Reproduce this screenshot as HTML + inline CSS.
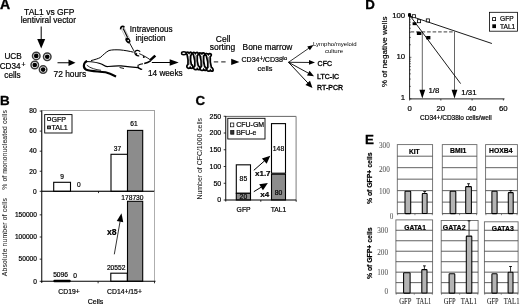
<!DOCTYPE html>
<html><head><meta charset="utf-8"><style>
html,body{margin:0;padding:0;background:#fff;}
svg{display:block;filter:grayscale(100%);}
</style></head><body>
<svg width="520" height="304" viewBox="0 0 520 304">
<rect width="520" height="304" fill="#fff"/>
<text x="0.1" y="9.4" font-size="14" text-anchor="start" font-weight="bold" font-family='"Liberation Sans", sans-serif' fill="#000"  stroke="#000" stroke-width="0.35">A</text>
<text x="49.3" y="14.6" font-size="8.5" text-anchor="middle" font-weight="normal" font-family='"Liberation Sans", sans-serif' fill="#000" stroke="#000" stroke-width="0.2" >TAL1 vs GFP</text>
<text x="48.3" y="23.2" font-size="8.3" text-anchor="middle" font-weight="normal" font-family='"Liberation Sans", sans-serif' fill="#000" stroke="#000" stroke-width="0.2" >lentiviral vector</text>
<line x1="41.2" y1="26.5" x2="41.2" y2="39.4" stroke="#000" stroke-width="1" />
<polygon points="41.2,48.4 37.2,38.9 45.2,38.9" fill="#000" stroke="none" stroke-width="1"/>
<circle cx="36.25" cy="55.9" r="3.75" fill="#fff" stroke="#3a3a3a" stroke-width="1.5"/>
<circle cx="36.25" cy="55.9" r="2.35" fill="#000"/>
<circle cx="47.25" cy="56.75" r="3.75" fill="#fff" stroke="#3a3a3a" stroke-width="1.5"/>
<circle cx="47.25" cy="56.75" r="2.35" fill="#000"/>
<circle cx="34.75" cy="65" r="3.75" fill="#fff" stroke="#3a3a3a" stroke-width="1.5"/>
<circle cx="34.75" cy="65" r="2.35" fill="#000"/>
<circle cx="43.1" cy="69.6" r="3.75" fill="#fff" stroke="#3a3a3a" stroke-width="1.5"/>
<circle cx="43.1" cy="69.6" r="2.35" fill="#000"/>
<text x="13.1" y="59.3" font-size="8.2" text-anchor="middle" font-weight="normal" font-family='"Liberation Sans", sans-serif' fill="#000" stroke="#000" stroke-width="0.2" >UCB</text>
<text x="-0.3" y="69" font-size="8.2" text-anchor="start" font-weight="normal" font-family='"Liberation Sans", sans-serif' fill="#000" stroke="#000" stroke-width="0.2" >CD34</text>
<text x="21.6" y="67.3" font-size="6.8" text-anchor="start" font-weight="normal" font-family='"Liberation Sans", sans-serif' fill="#000" stroke="#000" stroke-width="0.2" >+</text>
<text x="12.5" y="77.5" font-size="8.2" text-anchor="middle" font-weight="normal" font-family='"Liberation Sans", sans-serif' fill="#000" stroke="#000" stroke-width="0.2" >cells</text>
<line x1="57.5" y1="62.75" x2="69.0" y2="62.75" stroke="#000" stroke-width="1" />
<polygon points="75.5,62.75 68.5,65.95 68.5,59.55" fill="#000" stroke="none" stroke-width="1"/>
<text x="53.5" y="76.8" font-size="8.4" text-anchor="start" font-weight="normal" font-family='"Liberation Sans", sans-serif' fill="#000" stroke="#000" stroke-width="0.2" >72 hours</text>
<path d="M87.2,61 C83.2,62.6 82.6,67.8 86.3,69.8 C91.5,71.6 99.5,71.2 105.5,72.3 C110,73.3 113,75 116,76.6" fill="none" stroke="#000" stroke-width="2.1" />
<path d="M86.8,65.2 C90.5,68.3 95.5,69.6 101,70.3" fill="none" stroke="#000" stroke-width="0.8" />
<path d="M85.8,61.5 C92,61.7 98,62.3 102,64.3 C104,65.5 105.5,66.6 107.2,66.6 C111,66.2 116,65.6 121,65.9 C127,66.6 133,67.2 138,67.6 L141.5,69.5" fill="none" stroke="#000" stroke-width="1.2" />
<path d="M91,60.6 C95,59.6 98,58.6 100.2,57.6 C103.2,55 106,52 109,50.5 C112,49.7 116,49.7 120,49.9 C124.5,50.3 129.5,51.2 133.5,52.2" fill="none" stroke="#000" stroke-width="1" />
<path d="M140.2,51.6 C138.4,49.6 135.2,49.9 134.8,52.4 C134.6,54.5 136.6,56.1 139.2,55.9" fill="none" stroke="#000" stroke-width="1.2" />
<path d="M135.6,53.4 l1.3,1.2" fill="none" stroke="#000" stroke-width="1.8" />
<path d="M139.2,53.6 C142.5,55 146.5,57.2 149.6,59.3" fill="none" stroke="#000" stroke-width="0.9" />
<circle cx="143.8" cy="57.1" r="1.0" fill="#000"/>
<path d="M150.6,60.8 C148.5,62.2 146.5,63 144.2,63.5" fill="none" stroke="#000" stroke-width="1.6" />
<path d="M143,63.7 C141.5,64 140,64.3 138.6,64.9" fill="none" stroke="#000" stroke-width="1.1" />
<path d="M138.4,64.9 C137.3,66.3 138.4,68.4 140.4,69 L142.2,69.4" fill="none" stroke="#000" stroke-width="1.2" />
<path d="M119.6,67.5 l4.4,1" fill="none" stroke="#000" stroke-width="0.9" />
<path d="M150,60.4 L155.3,55.6" fill="none" stroke="#000" stroke-width="2.6" />
<path d="M120.7,29.4 C120.4,27.3 121.8,25.7 123.5,26.5 L124.3,27.6" fill="none" stroke="#000" stroke-width="1.7" />
<polygon points="121.6,29.6 124.4,28.2 129.4,38.2 126.6,39.6" fill="#fff" stroke="#999" stroke-width="0.6"/>
<path d="M123.2,28.4 L127.6,37.6" fill="none" stroke="#000" stroke-width="1.2" />
<ellipse cx="127.9" cy="40.4" rx="3.1" ry="2.2" transform="rotate(58 127.9 40.4)" fill="#000"/>
<circle cx="128.2" cy="40.6" r="0.8" fill="#fff"/>
<path d="M129.5,42.8 L134.3,51.6" fill="none" stroke="#000" stroke-width="0.9" />
<text x="129.8" y="32.4" font-size="8.2" text-anchor="start" font-weight="normal" font-family='"Liberation Sans", sans-serif' fill="#000" stroke="#000" stroke-width="0.2" >Intravenous</text>
<text x="135.5" y="41.1" font-size="8.2" text-anchor="start" font-weight="normal" font-family='"Liberation Sans", sans-serif' fill="#000" stroke="#000" stroke-width="0.2" >injection</text>
<line x1="151.8" y1="62.5" x2="170.2" y2="62.5" stroke="#000" stroke-width="1" />
<polygon points="178.7,62.5 169.7,65.7 169.7,59.3" fill="#000" stroke="none" stroke-width="1"/>
<text x="148" y="76" font-size="8.2" text-anchor="start" font-weight="normal" font-family='"Liberation Sans", sans-serif' fill="#000" stroke="#000" stroke-width="0.2" >14 weeks</text>
<path d="M206.32,55.80 C205.16,55.10 205.27,53.30 206.66,53.50 C207.59,53.60 208.00,54.10 208.40,54.50 C208.87,53.60 210.10,53.10 211.01,54.10 C211.74,55.10 211.10,56.10 210.24,56.70 C210.02,59.30 210.63,65.10 211.38,67.30 C212.52,67.80 213.60,69.60 212.97,70.80 C212.12,71.50 210.99,71.10 210.37,70.30 C209.92,71.40 207.92,71.50 207.09,70.50 C206.26,69.30 206.86,67.90 207.82,67.40 C208.07,65.10 207.46,59.30 206.32,55.80 Z" fill="#fff" stroke="#000" stroke-width="1.75" />
<path d="M199.86,55.10 C198.74,54.40 198.87,52.60 200.21,52.80 C201.10,52.90 201.50,53.40 201.88,53.80 C202.34,52.90 203.54,52.40 204.42,53.40 C205.12,54.40 204.49,55.40 203.65,56.00 C203.41,58.60 203.96,64.40 204.66,66.60 C205.76,67.10 206.79,68.90 206.18,70.10 C205.35,70.80 204.25,70.40 203.66,69.60 C203.21,70.70 201.27,70.80 200.48,69.80 C199.68,68.60 200.28,67.20 201.21,66.70 C201.48,64.40 200.93,58.60 199.86,55.10 Z" fill="#fff" stroke="#000" stroke-width="1.75" />
<path d="M193.46,54.70 C192.34,54.00 192.47,52.20 193.81,52.40 C194.70,52.50 195.10,53.00 195.49,53.40 C195.94,52.50 197.14,52.00 198.02,53.00 C198.72,54.00 198.09,55.00 197.26,55.60 C197.02,58.20 197.55,63.60 198.25,65.80 C199.36,66.30 200.39,68.10 199.78,69.30 C198.95,70.00 197.85,69.60 197.26,68.80 C196.81,69.90 194.87,70.00 194.08,69.00 C193.28,67.80 193.87,66.40 194.81,65.90 C195.07,63.60 194.54,58.20 193.46,54.70 Z" fill="#fff" stroke="#000" stroke-width="1.75" />
<path d="M187.05,54.50 C185.99,53.80 186.16,52.00 187.45,52.20 C188.31,52.30 188.68,52.80 189.04,53.20 C189.51,52.30 190.69,51.80 191.51,52.80 C192.16,53.80 191.52,54.80 190.70,55.40 C190.40,58.00 190.69,62.20 191.31,64.40 C192.37,64.90 193.31,66.70 192.69,67.90 C191.86,68.60 190.81,68.20 190.26,67.40 C189.80,68.50 187.92,68.60 187.18,67.60 C186.44,66.40 187.06,65.00 187.97,64.50 C188.29,62.20 188.00,58.00 187.05,54.50 Z" fill="#fff" stroke="#000" stroke-width="1.75" />
<ellipse cx="183.8" cy="53.2" rx="2.3" ry="1.5" fill="#fff" stroke="#000" stroke-width="1.4"/>
<path d="M189.0,56 L189.3,64.5 M195.3,55.5 L195.9,65.5 M201.7,56 L202.3,66.5 M208.2,57 L208.9,67" fill="none" stroke="#555" stroke-width="0.7" />
<text x="223.2" y="42.2" font-size="8.5" text-anchor="middle" font-weight="normal" font-family='"Liberation Sans", sans-serif' fill="#000" stroke="#000" stroke-width="0.2" >Cell</text>
<text x="222.5" y="50.0" font-size="8.5" text-anchor="middle" font-weight="normal" font-family='"Liberation Sans", sans-serif' fill="#000" stroke="#000" stroke-width="0.2" >sorting</text>
<line x1="213.8" y1="61.9" x2="226.3" y2="61.9" stroke="#444" stroke-width="1.4" stroke-dasharray="4.4,3"/>
<polygon points="239.4,61.9 231.2,58.7 231.2,65.1" fill="#000" stroke="none" stroke-width="1"/>
<text x="242.6" y="49.5" font-size="8.4" text-anchor="start" font-weight="normal" font-family='"Liberation Sans", sans-serif' fill="#000" stroke="#000" stroke-width="0.2" >Bone marrow</text>
<text x="241.4" y="62.4" font-size="7.1" text-anchor="start" font-weight="normal" font-family='"Liberation Sans", sans-serif' fill="#000" stroke="#000" stroke-width="0.2" >CD34</text>
<text x="259.5" y="60.6" font-size="6.4" text-anchor="start" font-weight="normal" font-family='"Liberation Sans", sans-serif' fill="#000" stroke="#000" stroke-width="0.2" >+</text>
<text x="262.9" y="62.4" font-size="7.1" text-anchor="start" font-weight="normal" font-family='"Liberation Sans", sans-serif' fill="#000" stroke="#000" stroke-width="0.2" >/CD38</text>
<text x="282.6" y="59.6" font-size="5.8" text-anchor="start" font-weight="normal" font-family='"Liberation Sans", sans-serif' fill="#000" stroke="#000" stroke-width="0.2" >lo</text>
<text x="265" y="70.8" font-size="7.4" text-anchor="middle" font-weight="normal" font-family='"Liberation Sans", sans-serif' fill="#000" stroke="#000" stroke-width="0.2" >cells</text>
<line x1="288.5" y1="62.3" x2="308.977291773824" y2="48.12971409251382" stroke="#000" stroke-width="0.8" />
<polygon points="313.5,45 309.87492601013196,50.30554790459778 307.25734695093854,46.52291920634146" fill="#000" stroke="none" stroke-width="1"/>
<line x1="288.5" y1="62.3" x2="309.50015663268215" y2="62.458491748171184" stroke="#000" stroke-width="0.85" />
<polygon points="315,62.5 308.98205818030976,64.85464992192544 309.018283563724,60.05478661953896" fill="#000" stroke="none" stroke-width="1"/>
<line x1="288.5" y1="62.3" x2="308.7318372278238" y2="73.32833480261768" stroke="#000" stroke-width="0.9" />
<polygon points="314,76.2 307.00057432465377,75.45970261698177 309.58507300229786,70.7183561220232" fill="#000" stroke="none" stroke-width="1"/>
<line x1="288.5" y1="62.3" x2="308.05438266227134" y2="83.15800817308946" stroke="#000" stroke-width="0.95" />
<polygon points="312.5,87.9 305.4508467649964,84.91345707055153 309.97397743066495,80.6730220714873" fill="#000" stroke="none" stroke-width="1"/>
<text x="313" y="46" font-size="6" text-anchor="start" font-weight="normal" font-family='"Liberation Sans", sans-serif' fill="#000"  >Lympho/myeloid</text>
<text x="334" y="52.5" font-size="6" text-anchor="middle" font-weight="normal" font-family='"Liberation Sans", sans-serif' fill="#000"  >culture</text>
<text x="317.6" y="65.5" font-size="7.0" text-anchor="start" font-weight="normal" font-family='"Liberation Sans", sans-serif' fill="#000" stroke="#000" stroke-width="0.35" >CFC</text>
<text x="317.1" y="78.5" font-size="7.0" text-anchor="start" font-weight="normal" font-family='"Liberation Sans", sans-serif' fill="#000" stroke="#000" stroke-width="0.35" >LTC-IC</text>
<text x="317.1" y="89.7" font-size="7.0" text-anchor="start" font-weight="normal" font-family='"Liberation Sans", sans-serif' fill="#000" stroke="#000" stroke-width="0.35" >RT-PCR</text>
<text x="0" y="104.6" font-size="13.4" text-anchor="start" font-weight="bold" font-family='"Liberation Sans", sans-serif' fill="#000"  stroke="#000" stroke-width="0.3">B</text>
<text x="0" y="0" font-size="6.8" text-anchor="middle" font-weight="normal" font-family='"Liberation Sans", sans-serif' fill="#222" stroke="#222" stroke-width="0.05" transform="translate(7.4,149.9) rotate(-90)" textLength="79.5" lengthAdjust="spacing">% of mononucleated cells</text>
<text x="0" y="0" font-size="6.8" text-anchor="middle" font-weight="normal" font-family='"Liberation Sans", sans-serif' fill="#222" stroke="#222" stroke-width="0.05" transform="translate(7.3,237.1) rotate(-90)" textLength="78.2" lengthAdjust="spacing">Absolute number of cells</text>
<rect x="41.7" y="110.5" width="112.8" height="80.80000000000001" fill="none" stroke="#999" stroke-width="0.9" />
<line x1="41.7" y1="110.5" x2="41.7" y2="282.6" stroke="#333" stroke-width="1.25" />
<line x1="39.7" y1="111.06000000000002" x2="41.7" y2="111.06000000000002" stroke="#000" stroke-width="0.8" />
<text x="36.6" y="113.36000000000001" font-size="6.6" text-anchor="end" font-weight="normal" font-family='"Liberation Sans", sans-serif' fill="#000" stroke="#000" stroke-width="0.2" >80</text>
<line x1="39.7" y1="131.12" x2="41.7" y2="131.12" stroke="#000" stroke-width="0.8" />
<text x="36.6" y="133.42000000000002" font-size="6.6" text-anchor="end" font-weight="normal" font-family='"Liberation Sans", sans-serif' fill="#000" stroke="#000" stroke-width="0.2" >60</text>
<line x1="39.7" y1="151.18" x2="41.7" y2="151.18" stroke="#000" stroke-width="0.8" />
<text x="36.6" y="153.48000000000002" font-size="6.6" text-anchor="end" font-weight="normal" font-family='"Liberation Sans", sans-serif' fill="#000" stroke="#000" stroke-width="0.2" >40</text>
<line x1="39.7" y1="171.24" x2="41.7" y2="171.24" stroke="#000" stroke-width="0.8" />
<text x="36.6" y="173.54000000000002" font-size="6.6" text-anchor="end" font-weight="normal" font-family='"Liberation Sans", sans-serif' fill="#000" stroke="#000" stroke-width="0.2" >20</text>
<line x1="39.7" y1="191.3" x2="41.7" y2="191.3" stroke="#000" stroke-width="0.8" />
<text x="36.6" y="193.60000000000002" font-size="6.6" text-anchor="end" font-weight="normal" font-family='"Liberation Sans", sans-serif' fill="#000" stroke="#000" stroke-width="0.2" >0</text>
<rect x="44.7" y="114.6" width="27.3" height="18.4" fill="#fff" stroke="#000" stroke-width="0.9" />
<rect x="47.6" y="117.6" width="2.8" height="2.8" fill="#fff" stroke="#000" stroke-width="0.8" />
<text x="51.4" y="121.9" font-size="7.1" text-anchor="start" font-weight="normal" font-family='"Liberation Sans", sans-serif' fill="#000" stroke="#000" stroke-width="0.2" >GFP</text>
<rect x="47.6" y="126" width="2.8" height="2.8" fill="#777" stroke="#000" stroke-width="0.8" />
<text x="51.4" y="130.2" font-size="7.1" text-anchor="start" font-weight="normal" font-family='"Liberation Sans", sans-serif' fill="#000" stroke="#000" stroke-width="0.2" >TAL1</text>
<rect x="53.7" y="182.3" width="16.8" height="9.0" fill="#fff" stroke="#000" stroke-width="1.1" />
<text x="62.2" y="178.6" font-size="6.6" text-anchor="middle" font-weight="normal" font-family='"Liberation Sans", sans-serif' fill="#000" stroke="#000" stroke-width="0.2" >9</text>
<text x="78.8" y="187.4" font-size="6.6" text-anchor="middle" font-weight="normal" font-family='"Liberation Sans", sans-serif' fill="#000" stroke="#000" stroke-width="0.2" >0</text>
<rect x="111" y="154.3" width="16.5" height="37.0" fill="#fff" stroke="#000" stroke-width="1.1" />
<rect x="127.5" y="130.4" width="15.2" height="60.900000000000006" fill="#8c8c8c" stroke="#000" stroke-width="1.1" />
<text x="117.5" y="150.5" font-size="6.6" text-anchor="middle" font-weight="normal" font-family='"Liberation Sans", sans-serif' fill="#000" stroke="#000" stroke-width="0.2" >37</text>
<text x="134" y="126.4" font-size="6.6" text-anchor="middle" font-weight="normal" font-family='"Liberation Sans", sans-serif' fill="#000" stroke="#000" stroke-width="0.2" >61</text>
<line x1="41.7" y1="191.3" x2="154.5" y2="191.3" stroke="#000" stroke-width="1.1" />
<line x1="98.5" y1="191.3" x2="98.5" y2="193.10000000000002" stroke="#000" stroke-width="0.8" />
<line x1="154.5" y1="191" x2="154.5" y2="281.3" stroke="#999" stroke-width="0.8" />
<line x1="39.7" y1="214.85000000000002" x2="41.7" y2="214.85000000000002" stroke="#000" stroke-width="0.8" />
<text x="36.9" y="217.15000000000003" font-size="6.6" text-anchor="end" font-weight="normal" font-family='"Liberation Sans", sans-serif' fill="#000" stroke="#000" stroke-width="0.2" >150000</text>
<line x1="39.7" y1="237.0" x2="41.7" y2="237.0" stroke="#000" stroke-width="0.8" />
<text x="36.9" y="239.3" font-size="6.6" text-anchor="end" font-weight="normal" font-family='"Liberation Sans", sans-serif' fill="#000" stroke="#000" stroke-width="0.2" >100000</text>
<line x1="39.7" y1="259.15000000000003" x2="41.7" y2="259.15000000000003" stroke="#000" stroke-width="0.8" />
<text x="36.9" y="261.45000000000005" font-size="6.6" text-anchor="end" font-weight="normal" font-family='"Liberation Sans", sans-serif' fill="#000" stroke="#000" stroke-width="0.2" >50000</text>
<line x1="39.7" y1="281.3" x2="41.7" y2="281.3" stroke="#000" stroke-width="0.8" />
<text x="36.9" y="283.6" font-size="6.6" text-anchor="end" font-weight="normal" font-family='"Liberation Sans", sans-serif' fill="#000" stroke="#000" stroke-width="0.2" >0</text>
<rect x="53.4" y="279.7" width="17.3" height="2.6" fill="#000" stroke="none" stroke-width="1" rx="1"/>
<text x="60.6" y="276.8" font-size="6.7" text-anchor="middle" font-weight="normal" font-family='"Liberation Sans", sans-serif' fill="#000" stroke="#000" stroke-width="0.2" >5096</text>
<text x="75" y="277.6" font-size="6.7" text-anchor="middle" font-weight="normal" font-family='"Liberation Sans", sans-serif' fill="#000" stroke="#000" stroke-width="0.2" >0</text>
<rect x="110.8" y="273.2" width="16.5" height="8.100000000000023" fill="#fff" stroke="#000" stroke-width="1.1" />
<rect x="127.5" y="201.3" width="15.2" height="80.0" fill="#8c8c8c" stroke="#000" stroke-width="1.1" />
<text x="116.2" y="270.2" font-size="6.7" text-anchor="middle" font-weight="normal" font-family='"Liberation Sans", sans-serif' fill="#000" stroke="#000" stroke-width="0.2" >20552</text>
<text x="132.4" y="199.7" font-size="6.7" text-anchor="middle" font-weight="normal" font-family='"Liberation Sans", sans-serif' fill="#000" stroke="#000" stroke-width="0.2" >178730</text>
<line x1="41.7" y1="281.3" x2="155.5" y2="281.3" stroke="#000" stroke-width="1.1" />
<line x1="98.1" y1="281.3" x2="98.1" y2="283.3" stroke="#000" stroke-width="0.8" />
<line x1="154.5" y1="281.3" x2="154.5" y2="283.3" stroke="#000" stroke-width="0.8" />
<line x1="41.7" y1="281.3" x2="41.7" y2="282.8" stroke="#000" stroke-width="0.8" />
<text x="69" y="293.5" font-size="6.8" text-anchor="middle" font-weight="normal" font-family='"Liberation Sans", sans-serif' fill="#000" stroke="#000" stroke-width="0.2" >CD19+</text>
<text x="124.5" y="293.5" font-size="6.8" text-anchor="middle" font-weight="normal" font-family='"Liberation Sans", sans-serif' fill="#000" stroke="#000" stroke-width="0.2" >CD14+/15+</text>
<text x="95.5" y="304" font-size="7" text-anchor="middle" font-weight="normal" font-family='"Liberation Sans", sans-serif' fill="#000" stroke="#000" stroke-width="0.2" >Cells</text>
<line x1="114.3" y1="254.3" x2="120.1162958253631" y2="221.17942655001573" stroke="#000" stroke-width="0.8" />
<polygon points="121.5,213.3 123.28007776632977,222.24266868142942 116.77955086256681,221.101112737354" fill="#000" stroke="none" stroke-width="1"/>
<text x="106.9" y="234.8" font-size="8.6" text-anchor="start" font-weight="bold" font-family='"Liberation Sans", sans-serif' fill="#000" stroke="#000" stroke-width="0.2" >x8</text>
<text x="195.6" y="104.5" font-size="13.3" text-anchor="start" font-weight="bold" font-family='"Liberation Sans", sans-serif' fill="#000"  stroke="#000" stroke-width="0.3">C</text>
<text x="0" y="0" font-size="7" text-anchor="middle" font-weight="normal" font-family='"Liberation Sans", sans-serif' fill="#222" stroke="#222" stroke-width="0.05" transform="translate(202.4,158.8) rotate(-90)" textLength="81.6" lengthAdjust="spacing">Number of CFC/1000 cells</text>
<line x1="225.7" y1="116.4" x2="296.2" y2="116.4" stroke="#555" stroke-width="0.9" />
<line x1="296.1" y1="116.4" x2="296.1" y2="200.0" stroke="#888" stroke-width="1.1" />
<line x1="225.7" y1="116" x2="225.7" y2="201.5" stroke="#333" stroke-width="1.2" />
<line x1="223.7" y1="116.25" x2="225.7" y2="116.25" stroke="#000" stroke-width="0.8" />
<text x="221.2" y="118.65" font-size="7" text-anchor="end" font-weight="normal" font-family='"Liberation Sans", sans-serif' fill="#000" stroke="#000" stroke-width="0.2" >250</text>
<line x1="223.7" y1="133.0" x2="225.7" y2="133.0" stroke="#000" stroke-width="0.8" />
<text x="221.2" y="135.4" font-size="7" text-anchor="end" font-weight="normal" font-family='"Liberation Sans", sans-serif' fill="#000" stroke="#000" stroke-width="0.2" >200</text>
<line x1="223.7" y1="149.75" x2="225.7" y2="149.75" stroke="#000" stroke-width="0.8" />
<text x="221.2" y="152.15" font-size="7" text-anchor="end" font-weight="normal" font-family='"Liberation Sans", sans-serif' fill="#000" stroke="#000" stroke-width="0.2" >150</text>
<line x1="223.7" y1="166.5" x2="225.7" y2="166.5" stroke="#000" stroke-width="0.8" />
<text x="221.2" y="168.9" font-size="7" text-anchor="end" font-weight="normal" font-family='"Liberation Sans", sans-serif' fill="#000" stroke="#000" stroke-width="0.2" >100</text>
<line x1="223.7" y1="183.25" x2="225.7" y2="183.25" stroke="#000" stroke-width="0.8" />
<text x="221.2" y="185.65" font-size="7" text-anchor="end" font-weight="normal" font-family='"Liberation Sans", sans-serif' fill="#000" stroke="#000" stroke-width="0.2" >50</text>
<line x1="223.7" y1="200.0" x2="225.7" y2="200.0" stroke="#000" stroke-width="0.8" />
<text x="221.2" y="202.4" font-size="7" text-anchor="end" font-weight="normal" font-family='"Liberation Sans", sans-serif' fill="#000" stroke="#000" stroke-width="0.2" >0</text>
<rect x="227.8" y="118.3" width="37.2" height="20.7" fill="#fff" stroke="#000" stroke-width="0.9" />
<rect x="230.6" y="123" width="3.2" height="3.8" fill="#fff" stroke="#000" stroke-width="0.7" />
<text x="236.2" y="127" font-size="7" text-anchor="start" font-weight="normal" font-family='"Liberation Sans", sans-serif' fill="#000" stroke="#000" stroke-width="0.2" >CFU-GM</text>
<rect x="230.7" y="130.6" width="3.2" height="3.6" fill="#333" stroke="#000" stroke-width="0.7" />
<text x="236.2" y="135.2" font-size="7" text-anchor="start" font-weight="normal" font-family='"Liberation Sans", sans-serif' fill="#000" stroke="#000" stroke-width="0.2" >BFU-e</text>
<rect x="236.3" y="164.825" width="14.199999999999989" height="28.475" fill="#fff" stroke="#000" stroke-width="1.1" />
<rect x="236.3" y="193.3" width="14.199999999999989" height="6.7" fill="#8c8c8c" stroke="#000" stroke-width="1.1" />
<text x="243.4" y="181.2" font-size="6.8" text-anchor="middle" font-weight="normal" font-family='"Liberation Sans", sans-serif' fill="#000" stroke="#000" stroke-width="0.2" >85</text>
<text x="243.4" y="198.6" font-size="6.8" text-anchor="middle" font-weight="normal" font-family='"Liberation Sans", sans-serif' fill="#000" stroke="#000" stroke-width="0.2" >20</text>
<rect x="271.5" y="123.61999999999999" width="14.0" height="49.580000000000005" fill="#fff" stroke="#000" stroke-width="1.1" />
<rect x="271.5" y="174.20499999999998" width="14.0" height="25.795" fill="#8c8c8c" stroke="#000" stroke-width="1.1" />
<text x="278.5" y="150.6" font-size="6.8" text-anchor="middle" font-weight="normal" font-family='"Liberation Sans", sans-serif' fill="#000" stroke="#000" stroke-width="0.2" >148</text>
<text x="278.5" y="195" font-size="6.8" text-anchor="middle" font-weight="normal" font-family='"Liberation Sans", sans-serif' fill="#000" stroke="#000" stroke-width="0.2" >80</text>
<line x1="225.7" y1="200.0" x2="296.2" y2="200.0" stroke="#000" stroke-width="1.1" />
<line x1="260.8" y1="200.0" x2="260.8" y2="201.8" stroke="#000" stroke-width="0.8" />
<line x1="296.2" y1="200.0" x2="296.2" y2="201.8" stroke="#000" stroke-width="0.8" />
<line x1="253.8" y1="170.3" x2="264.66626326162594" y2="160.7508595579651" stroke="#000" stroke-width="1" />
<polygon points="270.3,155.8 266.66709340022425,163.78511049624902 261.9142682245777,158.37672322740988" fill="#000" stroke="none" stroke-width="1"/>
<line x1="253.8" y1="191.7" x2="261.4970210481252" y2="187.00536304866122" stroke="#000" stroke-width="1" />
<polygon points="267.9,183.1 262.94473004802427,190.33915048213854 259.1955815213095,184.19229068833872" fill="#000" stroke="none" stroke-width="1"/>
<text x="255" y="176.4" font-size="8" text-anchor="start" font-weight="bold" font-family='"Liberation Sans", sans-serif' fill="#000" stroke="#000" stroke-width="0.2" >x1.7</text>
<text x="260.2" y="196.8" font-size="8" text-anchor="start" font-weight="bold" font-family='"Liberation Sans", sans-serif' fill="#000" stroke="#000" stroke-width="0.2" >x4</text>
<text x="243.6" y="212" font-size="6.8" text-anchor="middle" font-weight="normal" font-family='"Liberation Sans", sans-serif' fill="#000" stroke="#000" stroke-width="0.2" >GFP</text>
<text x="278.5" y="212" font-size="6.8" text-anchor="middle" font-weight="normal" font-family='"Liberation Sans", sans-serif' fill="#000" stroke="#000" stroke-width="0.2" >TAL1</text>
<text x="365.3" y="9.4" font-size="13.3" text-anchor="start" font-weight="bold" font-family='"Liberation Sans", sans-serif' fill="#000"  stroke="#000" stroke-width="0.3">D</text>
<text x="0" y="0" font-size="8" text-anchor="middle" font-weight="normal" font-family='"Liberation Sans", sans-serif' fill="#000" stroke="#000" stroke-width="0.2" transform="translate(386.6,51.8) rotate(-90)" textLength="70.5" lengthAdjust="spacing">% of negative wells</text>
<line x1="409.6" y1="13" x2="409.6" y2="98.9" stroke="#222" stroke-width="1.0" />
<line x1="409.6" y1="98.9" x2="504.5" y2="98.9" stroke="#222" stroke-width="1.0" />
<text x="405.2" y="17.8" font-size="7.8" text-anchor="end" font-weight="normal" font-family='"Liberation Sans", sans-serif' fill="#000" stroke="#000" stroke-width="0.2" >100</text>
<text x="405.2" y="59.1" font-size="7.8" text-anchor="end" font-weight="normal" font-family='"Liberation Sans", sans-serif' fill="#000" stroke="#000" stroke-width="0.2" >10</text>
<text x="405.2" y="100.3" font-size="7.8" text-anchor="end" font-weight="normal" font-family='"Liberation Sans", sans-serif' fill="#000" stroke="#000" stroke-width="0.2" >1</text>
<line x1="409.6" y1="98.9" x2="411.40000000000003" y2="98.9" stroke="#000" stroke-width="0.6" />
<line x1="409.6" y1="86.37715218037839" x2="410.8" y2="86.37715218037839" stroke="#000" stroke-width="0.6" />
<line x1="409.6" y1="79.05175580366205" x2="410.8" y2="79.05175580366205" stroke="#000" stroke-width="0.6" />
<line x1="409.6" y1="73.85430436075677" x2="410.8" y2="73.85430436075677" stroke="#000" stroke-width="0.6" />
<line x1="409.6" y1="69.82284781962161" x2="410.8" y2="69.82284781962161" stroke="#000" stroke-width="0.6" />
<line x1="409.6" y1="66.52890798404043" x2="410.8" y2="66.52890798404043" stroke="#000" stroke-width="0.6" />
<line x1="409.6" y1="63.74392153540692" x2="410.8" y2="63.74392153540692" stroke="#000" stroke-width="0.6" />
<line x1="409.6" y1="61.331456541135154" x2="410.8" y2="61.331456541135154" stroke="#000" stroke-width="0.6" />
<line x1="409.6" y1="59.20351160732409" x2="410.8" y2="59.20351160732409" stroke="#000" stroke-width="0.6" />
<line x1="409.6" y1="57.300000000000004" x2="411.40000000000003" y2="57.300000000000004" stroke="#000" stroke-width="0.6" />
<line x1="409.6" y1="44.77715218037839" x2="410.8" y2="44.77715218037839" stroke="#000" stroke-width="0.6" />
<line x1="409.6" y1="37.451755803662046" x2="410.8" y2="37.451755803662046" stroke="#000" stroke-width="0.6" />
<line x1="409.6" y1="32.25430436075676" x2="410.8" y2="32.25430436075676" stroke="#000" stroke-width="0.6" />
<line x1="409.6" y1="28.22284781962162" x2="410.8" y2="28.22284781962162" stroke="#000" stroke-width="0.6" />
<line x1="409.6" y1="24.92890798404042" x2="410.8" y2="24.92890798404042" stroke="#000" stroke-width="0.6" />
<line x1="409.6" y1="22.143921535406918" x2="410.8" y2="22.143921535406918" stroke="#000" stroke-width="0.6" />
<line x1="409.6" y1="19.731456541135145" x2="410.8" y2="19.731456541135145" stroke="#000" stroke-width="0.6" />
<line x1="409.6" y1="17.603511607324094" x2="410.8" y2="17.603511607324094" stroke="#000" stroke-width="0.6" />
<line x1="409.6" y1="98.9" x2="409.6" y2="100.5" stroke="#000" stroke-width="0.7" />
<text x="409.6" y="110.6" font-size="7.8" text-anchor="middle" font-weight="normal" font-family='"Liberation Sans", sans-serif' fill="#000" stroke="#000" stroke-width="0.2" >0</text>
<line x1="440.85" y1="98.9" x2="440.85" y2="100.5" stroke="#000" stroke-width="0.7" />
<text x="440.85" y="110.6" font-size="7.8" text-anchor="middle" font-weight="normal" font-family='"Liberation Sans", sans-serif' fill="#000" stroke="#000" stroke-width="0.2" >20</text>
<line x1="472.1" y1="98.9" x2="472.1" y2="100.5" stroke="#000" stroke-width="0.7" />
<text x="472.1" y="110.6" font-size="7.8" text-anchor="middle" font-weight="normal" font-family='"Liberation Sans", sans-serif' fill="#000" stroke="#000" stroke-width="0.2" >40</text>
<line x1="503.35" y1="98.9" x2="503.35" y2="100.5" stroke="#000" stroke-width="0.7" />
<text x="503.35" y="110.6" font-size="7.8" text-anchor="middle" font-weight="normal" font-family='"Liberation Sans", sans-serif' fill="#000" stroke="#000" stroke-width="0.2" >60</text>
<text x="420" y="119.6" font-size="6.5" text-anchor="start" font-weight="normal" font-family='"Liberation Sans", sans-serif' fill="#000" stroke="#000" stroke-width="0.2" >CD34+/CD38lo cells/well</text>
<line x1="410.6" y1="31.9" x2="455" y2="31.9" stroke="#666" stroke-width="1.2" stroke-dasharray="3.6,1.9"/>
<line x1="422.3" y1="31.9" x2="422.3" y2="91" stroke="#555" stroke-width="0.9" />
<polygon points="422.3,98.6 419.40000000000003,89.8 425.2,89.8" fill="#000" stroke="none" stroke-width="1"/>
<line x1="454.5" y1="31.9" x2="454.5" y2="91" stroke="#555" stroke-width="0.9" />
<polygon points="454.5,98.6 451.6,89.8 457.4,89.8" fill="#000" stroke="none" stroke-width="1"/>
<line x1="409.6" y1="15.8" x2="491.9" y2="43.5" stroke="#000" stroke-width="0.9" />
<line x1="409.6" y1="15.2" x2="460.6" y2="83.6" stroke="#000" stroke-width="0.9" />
<rect x="412.29999999999995" y="14.7" width="3.2" height="3.0" fill="#fff" stroke="#000" stroke-width="0.8" />
<rect x="417.4" y="19.7" width="3.2" height="3.0" fill="#fff" stroke="#000" stroke-width="0.8" />
<rect x="426.29999999999995" y="18.9" width="3.2" height="3.0" fill="#fff" stroke="#000" stroke-width="0.8" />
<rect x="408.0" y="13.35" width="3" height="3.3" fill="#000" stroke="none" stroke-width="1" />
<rect x="412.6" y="22.25" width="3.8" height="2.9" fill="#000" stroke="none" stroke-width="1" />
<rect x="416.85" y="31.799999999999997" width="4.5" height="3.2" fill="#000" stroke="none" stroke-width="1" />
<rect x="426.2" y="36.0" width="4.2" height="3.4" fill="#000" stroke="none" stroke-width="1" />
<text x="428.4" y="93.4" font-size="7.8" text-anchor="start" font-weight="normal" font-family='"Liberation Sans", sans-serif' fill="#000" stroke="#000" stroke-width="0.2" >1/8</text>
<text x="461.3" y="94.5" font-size="7.8" text-anchor="start" font-weight="normal" font-family='"Liberation Sans", sans-serif' fill="#000" stroke="#000" stroke-width="0.2" >1/31</text>
<rect x="489.5" y="12.3" width="28" height="18.9" fill="#fff" stroke="#000" stroke-width="0.8" />
<rect x="492.6" y="17.6" width="3" height="3" fill="#fff" stroke="#000" stroke-width="0.8" />
<text x="500" y="20.7" font-size="6.6" text-anchor="start" font-weight="normal" font-family='"Liberation Sans", sans-serif' fill="#000" stroke="#000" stroke-width="0.2" >GFP</text>
<rect x="492.3" y="24.3" width="3.7" height="3.8" fill="#000" stroke="none" stroke-width="1" />
<text x="500" y="28.5" font-size="6.6" text-anchor="start" font-weight="normal" font-family='"Liberation Sans", sans-serif' fill="#000" stroke="#000" stroke-width="0.2" >TAL1</text>
<text x="365" y="143.5" font-size="13.4" text-anchor="start" font-weight="bold" font-family='"Liberation Sans", sans-serif' fill="#000"  stroke="#000" stroke-width="0.3">E</text>
<text x="0" y="0" font-size="7" text-anchor="middle" font-weight="bold" font-family='"Liberation Sans", sans-serif' fill="#000" stroke="#000" stroke-width="0.2" transform="translate(372.4,178.3) rotate(-90)" textLength="51.6" lengthAdjust="spacingAndGlyphs">% of GFP+ cells</text>
<text x="0" y="0" font-size="7" text-anchor="middle" font-weight="bold" font-family='"Liberation Sans", sans-serif' fill="#000" stroke="#000" stroke-width="0.2" transform="translate(371.9,253.3) rotate(-90)" textLength="51.6" lengthAdjust="spacingAndGlyphs">% of GFP+ cells</text>
<rect x="397.3" y="144.6" width="35.30000000000001" height="69.0" fill="#fff" stroke="#6a6a6a" stroke-width="0.9" />
<line x1="397.3" y1="202.12" x2="432.6" y2="202.12" stroke="#444" stroke-width="0.85" />
<line x1="397.3" y1="190.64" x2="432.6" y2="190.64" stroke="#444" stroke-width="0.85" />
<line x1="397.3" y1="179.16" x2="432.6" y2="179.16" stroke="#444" stroke-width="0.85" />
<line x1="397.3" y1="167.68" x2="432.6" y2="167.68" stroke="#444" stroke-width="0.85" />
<line x1="397.3" y1="156.2" x2="432.6" y2="156.2" stroke="#444" stroke-width="0.85" />
<line x1="397.3" y1="213.6" x2="432.6" y2="213.6" stroke="#555" stroke-width="0.8" />
<line x1="397.6" y1="213.6" x2="397.6" y2="215.2" stroke="#555" stroke-width="0.7" />
<line x1="414.95000000000005" y1="213.6" x2="414.95000000000005" y2="215.2" stroke="#555" stroke-width="0.7" />
<line x1="432.3" y1="213.6" x2="432.3" y2="215.2" stroke="#555" stroke-width="0.7" />
<rect x="405.0" y="191.23999999999998" width="5.700000000000034" height="22.360000000000007" rx="0.6" fill="#b4b4b4" stroke="#000" stroke-width="1.05"/>
<line x1="424.7" y1="191.5584" x2="424.7" y2="192.93599999999998" stroke="#000" stroke-width="0.8" />
<line x1="423.3" y1="191.5584" x2="426.09999999999997" y2="191.5584" stroke="#000" stroke-width="0.9" />
<rect x="422.3" y="193.53599999999997" width="4.8" height="20.064000000000014" rx="0.6" fill="#b4b4b4" stroke="#000" stroke-width="1.05"/>
<text x="414.2" y="153.9" font-size="6.6" text-anchor="middle" font-weight="bold" font-family='"Liberation Sans", sans-serif' fill="#000" stroke="#000" stroke-width="0.2" >KIT</text>
<rect x="442.3" y="144.6" width="34.599999999999966" height="69.0" fill="#fff" stroke="#6a6a6a" stroke-width="0.9" />
<line x1="442.3" y1="202.12" x2="476.9" y2="202.12" stroke="#444" stroke-width="0.85" />
<line x1="442.3" y1="190.64" x2="476.9" y2="190.64" stroke="#444" stroke-width="0.85" />
<line x1="442.3" y1="179.16" x2="476.9" y2="179.16" stroke="#444" stroke-width="0.85" />
<line x1="442.3" y1="167.68" x2="476.9" y2="167.68" stroke="#444" stroke-width="0.85" />
<line x1="442.3" y1="156.2" x2="476.9" y2="156.2" stroke="#444" stroke-width="0.85" />
<line x1="442.3" y1="213.6" x2="476.9" y2="213.6" stroke="#555" stroke-width="0.8" />
<line x1="442.6" y1="213.6" x2="442.6" y2="215.2" stroke="#555" stroke-width="0.7" />
<line x1="459.6" y1="213.6" x2="459.6" y2="215.2" stroke="#555" stroke-width="0.7" />
<line x1="476.59999999999997" y1="213.6" x2="476.59999999999997" y2="215.2" stroke="#555" stroke-width="0.7" />
<rect x="450.1" y="191.23999999999998" width="5.699999999999977" height="22.360000000000007" rx="0.6" fill="#b4b4b4" stroke="#000" stroke-width="1.05"/>
<line x1="468.55" y1="183.75199999999998" x2="468.55" y2="186.048" stroke="#000" stroke-width="0.8" />
<line x1="467.15000000000003" y1="183.75199999999998" x2="469.95" y2="183.75199999999998" stroke="#000" stroke-width="0.9" />
<rect x="465.70000000000005" y="186.648" width="5.699999999999977" height="26.95199999999999" rx="0.6" fill="#b4b4b4" stroke="#000" stroke-width="1.05"/>
<text x="458.2" y="152.9" font-size="6.9" text-anchor="middle" font-weight="bold" font-family='"Liberation Sans", sans-serif' fill="#000" stroke="#000" stroke-width="0.2" >BMI1</text>
<rect x="485.6" y="144.6" width="31.799999999999955" height="69.0" fill="#fff" stroke="#6a6a6a" stroke-width="0.9" />
<line x1="485.6" y1="202.12" x2="517.4" y2="202.12" stroke="#444" stroke-width="0.85" />
<line x1="485.6" y1="190.64" x2="517.4" y2="190.64" stroke="#444" stroke-width="0.85" />
<line x1="485.6" y1="179.16" x2="517.4" y2="179.16" stroke="#444" stroke-width="0.85" />
<line x1="485.6" y1="167.68" x2="517.4" y2="167.68" stroke="#444" stroke-width="0.85" />
<line x1="485.6" y1="156.2" x2="517.4" y2="156.2" stroke="#444" stroke-width="0.85" />
<line x1="485.6" y1="213.6" x2="517.4" y2="213.6" stroke="#555" stroke-width="0.8" />
<line x1="485.90000000000003" y1="213.6" x2="485.90000000000003" y2="215.2" stroke="#555" stroke-width="0.7" />
<line x1="501.5" y1="213.6" x2="501.5" y2="215.2" stroke="#555" stroke-width="0.7" />
<line x1="517.1" y1="213.6" x2="517.1" y2="215.2" stroke="#555" stroke-width="0.7" />
<rect x="491.90000000000003" y="191.23999999999998" width="5.199999999999977" height="22.360000000000007" rx="0.6" fill="#b4b4b4" stroke="#000" stroke-width="1.05"/>
<line x1="510.75" y1="190.64" x2="510.75" y2="192.0176" stroke="#000" stroke-width="0.8" />
<line x1="509.35" y1="190.64" x2="512.15" y2="190.64" stroke="#000" stroke-width="0.9" />
<rect x="508.3" y="192.61759999999998" width="4.899999999999966" height="20.982400000000005" rx="0.6" fill="#b4b4b4" stroke="#000" stroke-width="1.05"/>
<text x="500.8" y="152.9" font-size="6.8" text-anchor="middle" font-weight="bold" font-family='"Liberation Sans", sans-serif' fill="#000" stroke="#000" stroke-width="0.2" >HOXB4</text>
<rect x="395.9" y="219.9" width="36.700000000000045" height="73.20000000000002" fill="#fff" stroke="#6a6a6a" stroke-width="0.9" />
<line x1="395.9" y1="282.63" x2="432.6" y2="282.63" stroke="#444" stroke-width="0.85" />
<line x1="395.9" y1="272.16" x2="432.6" y2="272.16" stroke="#444" stroke-width="0.85" />
<line x1="395.9" y1="261.69" x2="432.6" y2="261.69" stroke="#444" stroke-width="0.85" />
<line x1="395.9" y1="251.22000000000003" x2="432.6" y2="251.22000000000003" stroke="#444" stroke-width="0.85" />
<line x1="395.9" y1="240.75000000000003" x2="432.6" y2="240.75000000000003" stroke="#444" stroke-width="0.85" />
<line x1="395.9" y1="230.28000000000003" x2="432.6" y2="230.28000000000003" stroke="#444" stroke-width="0.85" />
<line x1="395.9" y1="293.1" x2="432.6" y2="293.1" stroke="#555" stroke-width="0.8" />
<line x1="396.2" y1="293.1" x2="396.2" y2="294.70000000000005" stroke="#555" stroke-width="0.7" />
<line x1="414.25" y1="293.1" x2="414.25" y2="294.70000000000005" stroke="#555" stroke-width="0.7" />
<line x1="432.3" y1="293.1" x2="432.3" y2="294.70000000000005" stroke="#555" stroke-width="0.7" />
<rect x="403.6" y="272.76000000000005" width="6.4999999999999885" height="20.339999999999996" rx="0.6" fill="#b4b4b4" stroke="#000" stroke-width="1.05"/>
<line x1="424.4" y1="265.87800000000004" x2="424.4" y2="269.019" stroke="#000" stroke-width="0.8" />
<line x1="423.0" y1="265.87800000000004" x2="425.79999999999995" y2="265.87800000000004" stroke="#000" stroke-width="0.9" />
<rect x="421.8" y="269.619" width="5.200000000000034" height="23.481000000000016" rx="0.6" fill="#b4b4b4" stroke="#000" stroke-width="1.05"/>
<text x="415.1" y="230.3" font-size="6.7" text-anchor="middle" font-weight="bold" font-family='"Liberation Sans", sans-serif' fill="#000" stroke="#000" stroke-width="0.2" >GATA1</text>
<rect x="441.2" y="220.5" width="36.900000000000034" height="72.60000000000002" fill="#fff" stroke="#6a6a6a" stroke-width="0.9" />
<line x1="441.2" y1="282.63" x2="478.1" y2="282.63" stroke="#444" stroke-width="0.85" />
<line x1="441.2" y1="272.16" x2="478.1" y2="272.16" stroke="#444" stroke-width="0.85" />
<line x1="441.2" y1="261.69" x2="478.1" y2="261.69" stroke="#444" stroke-width="0.85" />
<line x1="441.2" y1="251.22000000000003" x2="478.1" y2="251.22000000000003" stroke="#444" stroke-width="0.85" />
<line x1="441.2" y1="240.75000000000003" x2="478.1" y2="240.75000000000003" stroke="#444" stroke-width="0.85" />
<line x1="441.2" y1="230.28000000000003" x2="478.1" y2="230.28000000000003" stroke="#444" stroke-width="0.85" />
<line x1="441.2" y1="293.1" x2="478.1" y2="293.1" stroke="#555" stroke-width="0.8" />
<line x1="441.5" y1="293.1" x2="441.5" y2="294.70000000000005" stroke="#555" stroke-width="0.7" />
<line x1="459.65" y1="293.1" x2="459.65" y2="294.70000000000005" stroke="#555" stroke-width="0.7" />
<line x1="477.8" y1="293.1" x2="477.8" y2="294.70000000000005" stroke="#555" stroke-width="0.7" />
<rect x="449.1" y="273.807" width="5.699999999999977" height="19.293000000000028" rx="0.6" fill="#b4b4b4" stroke="#000" stroke-width="1.05"/>
<line x1="469.04999999999995" y1="220.85700000000003" x2="469.04999999999995" y2="235.51500000000001" stroke="#000" stroke-width="0.8" />
<line x1="467.65" y1="220.85700000000003" x2="470.44999999999993" y2="220.85700000000003" stroke="#000" stroke-width="0.9" />
<rect x="466.3" y="236.115" width="5.4999999999999885" height="56.98500000000001" rx="0.6" fill="#b4b4b4" stroke="#000" stroke-width="1.05"/>
<text x="454.2" y="230.4" font-size="7.0" text-anchor="middle" font-weight="bold" font-family='"Liberation Sans", sans-serif' fill="#000" stroke="#000" stroke-width="0.2" >GATA2</text>
<rect x="484.4" y="221.8" width="33.700000000000045" height="71.30000000000001" fill="#fff" stroke="#6a6a6a" stroke-width="0.9" />
<line x1="484.4" y1="282.63" x2="518.1" y2="282.63" stroke="#444" stroke-width="0.85" />
<line x1="484.4" y1="272.16" x2="518.1" y2="272.16" stroke="#444" stroke-width="0.85" />
<line x1="484.4" y1="261.69" x2="518.1" y2="261.69" stroke="#444" stroke-width="0.85" />
<line x1="484.4" y1="251.22000000000003" x2="518.1" y2="251.22000000000003" stroke="#444" stroke-width="0.85" />
<line x1="484.4" y1="240.75000000000003" x2="518.1" y2="240.75000000000003" stroke="#444" stroke-width="0.85" />
<line x1="484.4" y1="230.28000000000003" x2="518.1" y2="230.28000000000003" stroke="#444" stroke-width="0.85" />
<line x1="484.4" y1="293.1" x2="518.1" y2="293.1" stroke="#555" stroke-width="0.8" />
<line x1="484.7" y1="293.1" x2="484.7" y2="294.70000000000005" stroke="#555" stroke-width="0.7" />
<line x1="501.25" y1="293.1" x2="501.25" y2="294.70000000000005" stroke="#555" stroke-width="0.7" />
<line x1="517.8000000000001" y1="293.1" x2="517.8000000000001" y2="294.70000000000005" stroke="#555" stroke-width="0.7" />
<rect x="491.90000000000003" y="273.807" width="5.199999999999977" height="19.293000000000028" rx="0.6" fill="#b4b4b4" stroke="#000" stroke-width="1.05"/>
<line x1="510.55" y1="266.50620000000004" x2="510.55" y2="271.74120000000005" stroke="#000" stroke-width="0.8" />
<line x1="509.15000000000003" y1="266.50620000000004" x2="511.95" y2="266.50620000000004" stroke="#000" stroke-width="0.9" />
<rect x="508.1" y="272.3412000000001" width="4.900000000000023" height="20.758799999999972" rx="0.6" fill="#b4b4b4" stroke="#000" stroke-width="1.05"/>
<text x="502.7" y="230.8" font-size="6.8" text-anchor="middle" font-weight="bold" font-family='"Liberation Sans", sans-serif' fill="#000" stroke="#000" stroke-width="0.2" >GATA3</text>
<text x="389.8" y="148.3" font-size="7.2" text-anchor="end" font-weight="normal" font-family='"Liberation Serif", serif' fill="#555" stroke="#555" stroke-width="0.05" >300</text>
<text x="389.8" y="171.5" font-size="7.2" text-anchor="end" font-weight="normal" font-family='"Liberation Serif", serif' fill="#555" stroke="#555" stroke-width="0.05" >200</text>
<text x="389.8" y="194.4" font-size="7.2" text-anchor="end" font-weight="normal" font-family='"Liberation Serif", serif' fill="#555" stroke="#555" stroke-width="0.05" >100</text>
<text x="393.3" y="219.2" font-size="7.2" text-anchor="end" font-weight="normal" font-family='"Liberation Serif", serif' fill="#555" stroke="#555" stroke-width="0.05" >0</text>
<text x="388" y="233.3" font-size="7.2" text-anchor="end" font-weight="normal" font-family='"Liberation Serif", serif' fill="#555" stroke="#555" stroke-width="0.05" >300</text>
<text x="388" y="255.2" font-size="7.2" text-anchor="end" font-weight="normal" font-family='"Liberation Serif", serif' fill="#555" stroke="#555" stroke-width="0.05" >200</text>
<text x="388" y="275.2" font-size="7.2" text-anchor="end" font-weight="normal" font-family='"Liberation Serif", serif' fill="#555" stroke="#555" stroke-width="0.05" >100</text>
<text x="388" y="294.0" font-size="7.2" text-anchor="end" font-weight="normal" font-family='"Liberation Serif", serif' fill="#555" stroke="#555" stroke-width="0.05" >0</text>
<text x="399.2" y="304.3" font-size="7.8" text-anchor="start" font-weight="normal" font-family='"Liberation Serif", serif' fill="#111" stroke="#111" stroke-width="0.05" textLength="12.3" lengthAdjust="spacingAndGlyphs">GFP</text>
<text x="416.2" y="304.3" font-size="7.8" text-anchor="start" font-weight="normal" font-family='"Liberation Serif", serif' fill="#111" stroke="#111" stroke-width="0.05" textLength="15.0" lengthAdjust="spacingAndGlyphs">TAL1</text>
<text x="443.8" y="304.3" font-size="7.8" text-anchor="start" font-weight="normal" font-family='"Liberation Serif", serif' fill="#111" stroke="#111" stroke-width="0.05" textLength="11.9" lengthAdjust="spacingAndGlyphs">GFP</text>
<text x="460.8" y="304.3" font-size="7.8" text-anchor="start" font-weight="normal" font-family='"Liberation Serif", serif' fill="#111" stroke="#111" stroke-width="0.05" textLength="16.1" lengthAdjust="spacingAndGlyphs">TAL1</text>
<text x="486.9" y="304.3" font-size="7.8" text-anchor="start" font-weight="normal" font-family='"Liberation Serif", serif' fill="#111" stroke="#111" stroke-width="0.05" textLength="11.6" lengthAdjust="spacingAndGlyphs">GFP</text>
<text x="503.8" y="304.3" font-size="7.8" text-anchor="start" font-weight="normal" font-family='"Liberation Serif", serif' fill="#111" stroke="#111" stroke-width="0.05" textLength="15.7" lengthAdjust="spacingAndGlyphs">TAL1</text>
</svg>
</body></html>
